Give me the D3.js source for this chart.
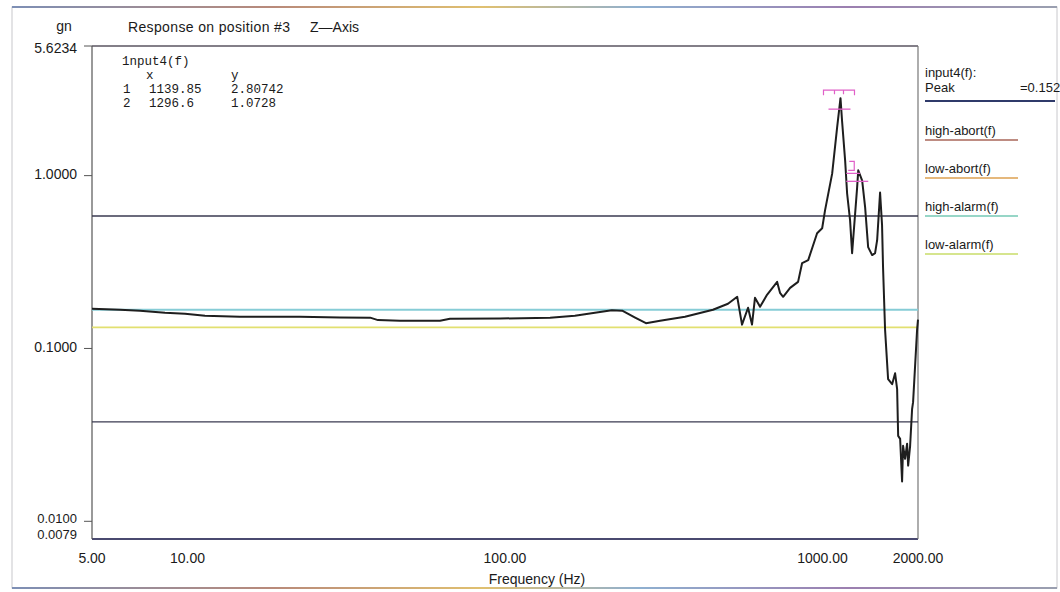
<!DOCTYPE html>
<html><head><meta charset="utf-8">
<script src="https://cdn.jsdelivr.net/npm/d3@7"></script>
<style>body{margin:0;background:#fff}svg{display:block}</style>
</head><body>
<svg id="c" width="1060" height="592"></svg>
<script>
// ---- data ----
const freq = [5, 6.13, 7.08, 8.49, 9.82, 11.35, 14.6, 22.6, 30.2, 37.6, 39.8, 46.7, 62.4, 67.1, 96.5, 138.7, 166, 192, 217, 234, 257, 278, 308, 369, 452, 504, 539, 558, 583, 600, 613, 636, 669, 720, 735, 752, 791, 838, 863, 902, 962, 998, 1019, 1073, 1112, 1139.85, 1153, 1179, 1196, 1222, 1240, 1249, 1286, 1296.6, 1334, 1363, 1393, 1434, 1465, 1487, 1519, 1541, 1552, 1575, 1610, 1658, 1694, 1719, 1732, 1757, 1782, 1795, 1821, 1848, 1862, 1889, 1916, 1930, 1987, 2000];
const resp = [0.170, 0.1675, 0.1654, 0.161, 0.159, 0.1548, 0.1527, 0.1527, 0.151, 0.1508, 0.1459, 0.1448, 0.1448, 0.1487, 0.149, 0.1508, 0.1548, 0.161, 0.1665, 0.1654, 0.1508, 0.1401, 0.1448, 0.1527, 0.1675, 0.1814, 0.199, 0.1374, 0.172, 0.1374, 0.1964, 0.1743, 0.2043, 0.2427, 0.2099, 0.199, 0.2242, 0.2427, 0.312, 0.3247, 0.464, 0.496, 0.629, 1.027, 1.887, 2.80742, 2.07, 1.22, 0.788, 0.551, 0.356, 0.423, 0.853, 1.0728, 0.936, 0.655, 0.386, 0.347, 0.356, 0.423, 0.798, 0.516, 0.296, 0.1286, 0.0664, 0.0621, 0.0718, 0.0581, 0.0312, 0.030, 0.01698, 0.02735, 0.0230, 0.0281, 0.021, 0.02735, 0.0446, 0.0489, 0.1286, 0.1467];
const markerFreq = [1139.85, 1296.6];
const markerResp = [2.80742, 1.0728];
const markerLabels = ["1", "2"];
const limitNames = ["high-abort(f)", "low-abort(f)", "high-alarm(f)", "low-alarm(f)"];
const limitValues = [0.584, 0.0376, 0.1675, 0.1326];
const yTickValues = [5.6234, 1.0, 0.1, 0.01, 0.0079];
const yTickLabels = ["5.6234", "1.0000", "0.1000", "0.0100", "0.0079"];
const xTickValues = [5, 10, 100, 1000, 2000];
const xTickLabels = ["5.00", "10.00", "100.00", "1000.00", "2000.00"];
const titleText = "Response on position #3";
const axisText = "Z\u2014Axis";
const unitText = "gn";
const xTitle = "Frequency (Hz)";
const seriesName = "input4(f):";
const peakText = "Peak";
const peakValue = "=0.152";
const cursorTitle = "1nput4(f)";

// ---- drawing ----
const svg = d3.select("#c");
const L = 92, R = 918, T = 46, B = 539;
const x = d3.scaleLog().domain([5, 2000]).range([L, R]);
const y = d3.scaleLog().domain([0.0079, 5.6234]).range([B, T]);
const sans = "'Liberation Sans', Arial, sans-serif";
const mono = "'Liberation Mono', 'DejaVu Sans Mono', monospace";
const ink = "#1a1a1a";

// gradient for scan-like frame lines
const defs = svg.append("defs");
const g1 = defs.append("linearGradient").attr("id", "scan").attr("x1", "0").attr("x2", "1");
[["0", "#7d8fb5"], ["0.25", "#b98a7a"], ["0.45", "#e0c070"], ["0.6", "#8fb0d0"], ["0.8", "#9c7fb0"], ["1", "#9aa0b0"]]
  .forEach(s => g1.append("stop").attr("offset", s[0]).attr("stop-color", s[1]));

// outer frame
svg.append("rect").attr("x", 12).attr("y", 7).attr("width", 1045).attr("height", 581)
  .attr("fill", "none").attr("stroke", "#c8c8cc").attr("stroke-width", 1);
svg.append("line").attr("x1", 12).attr("x2", 1057).attr("y1", 7).attr("y2", 7.01)
  .attr("stroke", "url(#scan)").attr("stroke-width", 2);
svg.append("line").attr("x1", 12).attr("x2", 1057).attr("y1", 588).attr("y2", 588.01)
  .attr("stroke", "url(#scan)").attr("stroke-width", 2);

// plot frame
svg.append("line").attr("x1", L).attr("x2", R).attr("y1", T).attr("y2", T + 0.01)
  .attr("stroke", "#5a5560").attr("stroke-width", 1.6);
svg.append("line").attr("x1", L).attr("x2", R).attr("y1", B).attr("y2", B + 0.01)
  .attr("stroke", "#4a4a70").attr("stroke-width", 2);
svg.append("line").attr("x1", L).attr("x2", L).attr("y1", T).attr("y2", B)
  .attr("stroke", "#555").attr("stroke-width", 1.2);
svg.append("line").attr("x1", R).attr("x2", R).attr("y1", T).attr("y2", B)
  .attr("stroke", "#777").attr("stroke-width", 1.2);

// limit lines
const limitColors = ["#3a3a50", "#3a3a50", "#86ccd6", "#e2e070"];
limitValues.forEach((v, i) => {
  svg.append("line").attr("x1", L).attr("x2", R).attr("y1", y(v)).attr("y2", y(v))
    .attr("stroke", limitColors[i]).attr("stroke-width", i < 2 ? 1.3 : 1.8);
});

// y axis ticks & labels
const yLabelShift = [3, 0, 0, -2, -3];
yTickValues.forEach((v, i) => {
  if (i < 4) svg.append("line").attr("x1", L - 8).attr("x2", L).attr("y1", y(v)).attr("y2", y(v))
    .attr("stroke", "#555").attr("stroke-width", 1);
  svg.append("text").attr("x", 77).attr("y", y(v) + yLabelShift[i])
    .attr("text-anchor", "end").attr("dominant-baseline", "middle")
    .attr("font-family", sans).attr("font-size", i >= 3 ? 13 : 14).attr("fill", ink).text(yTickLabels[i]);
});
svg.append("text").attr("x", 64).attr("y", 31).attr("text-anchor", "middle")
  .attr("font-family", sans).attr("font-size", 14).attr("fill", ink).text(unitText);

// x labels
xTickValues.forEach((v, i) => {
  svg.append("text").attr("x", x(v)).attr("y", 563).attr("text-anchor", "middle")
    .attr("font-family", sans).attr("font-size", 14).attr("fill", ink).text(xTickLabels[i]);
});
svg.append("text").attr("x", 537).attr("y", 584).attr("text-anchor", "middle")
  .attr("font-family", sans).attr("font-size", 14).attr("fill", ink).text(xTitle);

// title
svg.append("text").attr("x", 128).attr("y", 32).attr("font-family", sans).attr("font-size", 14)
  .attr("fill", ink).attr("textLength", 162).text(titleText);
svg.append("text").attr("x", 310).attr("y", 32).attr("font-family", sans).attr("font-size", 14)
  .attr("fill", ink).text(axisText);

// response curve
const line = d3.line().x((d, i) => x(freq[i])).y((d, i) => y(resp[i]));
svg.append("path").datum(resp).attr("d", line).attr("fill", "none")
  .attr("stroke", "#1e1e1e").attr("stroke-width", 2).attr("stroke-linejoin", "round");

// markers
const pink = "#e060c8";
markerFreq.forEach((f, i) => {
  const mx = x(f), my = y(markerResp[i]);
  svg.append("line").attr("x1", mx - 12).attr("x2", mx + 10).attr("y1", my + 11).attr("y2", my + 11)
    .attr("stroke", pink).attr("stroke-width", 1.3);
  if (i === 0) {
    svg.append("path").attr("d", `M${mx - 17},${my - 3}V${my - 8}H${mx + 14}V${my - 3}M${mx - 6},${my - 8}V${my - 4}M${mx + 3},${my - 8}V${my - 4}`)
      .attr("fill", "none").attr("stroke", pink).attr("stroke-width", 1.2);
  } else {
    svg.append("path").attr("d", `M${mx - 9},${my - 9}H${mx - 4}V${my}H${mx - 10}M${mx - 12},${my + 3}H${mx + 2}`)
      .attr("fill", "none").attr("stroke", pink).attr("stroke-width", 1.2);
  }
});

// cursor readout
const cur = svg.append("g").attr("font-family", mono).attr("font-size", 12.5).attr("fill", ink);
cur.append("text").attr("x", 122).attr("y", 65).text(cursorTitle);
cur.append("text").attr("x", 146).attr("y", 79).text("x");
cur.append("text").attr("x", 231).attr("y", 79).text("y");
markerFreq.forEach((f, i) => {
  const ry = 93 + i * 14;
  cur.append("text").attr("x", 123).attr("y", ry).text(markerLabels[i]);
  cur.append("text").attr("x", 149).attr("y", ry).text(String(f));
  cur.append("text").attr("x", 231).attr("y", ry).text(String(markerResp[i]));
});

// legend panel
const lg = svg.append("g").attr("font-family", sans).attr("font-size", 13).attr("fill", ink);
lg.append("text").attr("x", 925).attr("y", 77).text(seriesName);
lg.append("text").attr("x", 925).attr("y", 92).text(peakText);
lg.append("text").attr("x", 1020).attr("y", 92).text(peakValue);
lg.append("line").attr("x1", 925).attr("x2", 1055).attr("y1", 101).attr("y2", 101)
  .attr("stroke", "#2f3a6a").attr("stroke-width", 2);
const legendUnder = ["#a86658", "#dca050", "#74c8b4", "#c8dc68"];
limitNames.forEach((n, i) => {
  const ty = 135 + i * 38;
  lg.append("text").attr("x", 925).attr("y", ty).text(n);
  lg.append("line").attr("x1", 925).attr("x2", 1018).attr("y1", ty + 5).attr("y2", ty + 5)
    .attr("stroke", legendUnder[i]).attr("stroke-width", 1.5);
});
</script>
</body></html>
